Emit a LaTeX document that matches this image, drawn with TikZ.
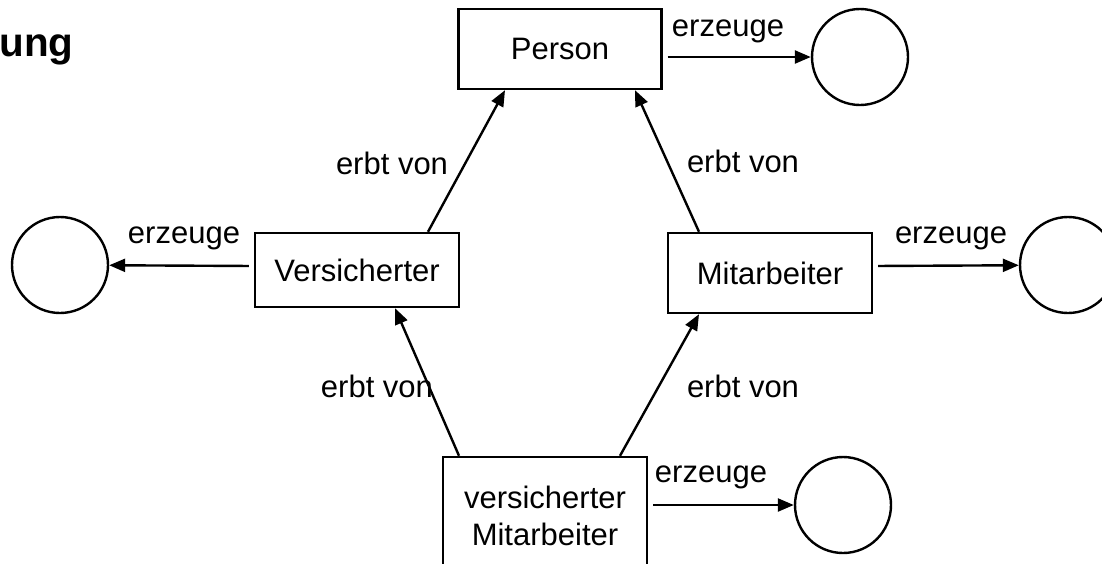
\documentclass[tikz,border=0pt]{standalone}
\usepackage{fontspec}
\setmainfont{Liberation Sans}
\usetikzlibrary{arrows.meta}

\begin{document}
\begin{tikzpicture}
[x=0.5pt,y=-0.5pt,
  font=\fontsize{15.5}{18.5}\selectfont,
  boxDecorate/.style={shape=rectangle,draw,line width=1.2pt,inner sep=0pt,align=center},%
  circleDecorate/.style={shape=circle,draw,line width=1.2pt,minimum size=48pt,inner sep=0pt},%
  lineDecorate/.style={-{Triangle[length=8pt,width=6.5pt]},line width=1.2pt},%
  labelDecorate/.style={inner sep=0pt,anchor=base}]
\useasboundingbox (0,0) rectangle (1102,563);
\clip (0,0) rectangle (1102,563);
%% heading
\node (heading) at (74,56) [anchor=base east,inner sep=0pt,font=\fontsize{20.2}{24}\selectfont\bfseries] {ung};
%% classes
\foreach \nodename/\x/\y/\w/\h/\text in {person/560/49/101.5/40/Person,
    vers/357/270/102/37/Versicherter, mitarb/770/273/102/40/Mitarbeiter} {
  \node (\nodename) at (\x,\y) [boxDecorate,minimum width=\w pt,minimum height=\h pt] {\text};
}
\node (versmitarb) at (545,516) [boxDecorate,minimum width=102pt,minimum height=59pt] {versicherter\\Mitarbeiter};
%% objects
\foreach \nodename/\x/\y in {objPerson/860/57, objVers/60/265, objMitarb/1068/265, objVersMitarb/843/505} {
  \node (\nodename) at (\x,\y) [circleDecorate] {};
}
%% inheritance
\path
([xshift=35.5pt]vers.north) edge[lineDecorate] ([xshift=-27.5pt]person.south)
([xshift=-35.5pt]mitarb.north) edge[lineDecorate] ([xshift=37.5pt]person.south)
([xshift=-43pt]versmitarb.north) edge[lineDecorate] ([xshift=19pt]vers.south)
([xshift=37.5pt]versmitarb.north) edge[lineDecorate] ([xshift=-35.5pt]mitarb.south);
%% instantiation
\path
([yshift=-4pt]person.east) edge[lineDecorate,shorten <=2.5pt] (objPerson)
([yshift=2pt]vers.west) edge[lineDecorate,shorten <=2.5pt] (objVers)
([yshift=3.5pt]mitarb.east) edge[lineDecorate,shorten <=2.5pt] (objMitarb)
([yshift=5.5pt]versmitarb.east) edge[lineDecorate,shorten <=2.5pt] (objVersMitarb);
%% labels
\foreach \nodename/\x/\y in {lblPerson/728/36, lblVers/184/243, lblMitarb/951/243, lblVersMitarb/711/482} {
  \node (\nodename) at (\x,\y) [labelDecorate] {erzeuge};
}
\foreach \nodename/\x/\y in {inhA/392/174, inhB/743/172, inhC/377/397, inhD/743/397} {
  \node (\nodename) at (\x,\y) [labelDecorate] {erbt von};
}
\end{tikzpicture}
\end{document}
